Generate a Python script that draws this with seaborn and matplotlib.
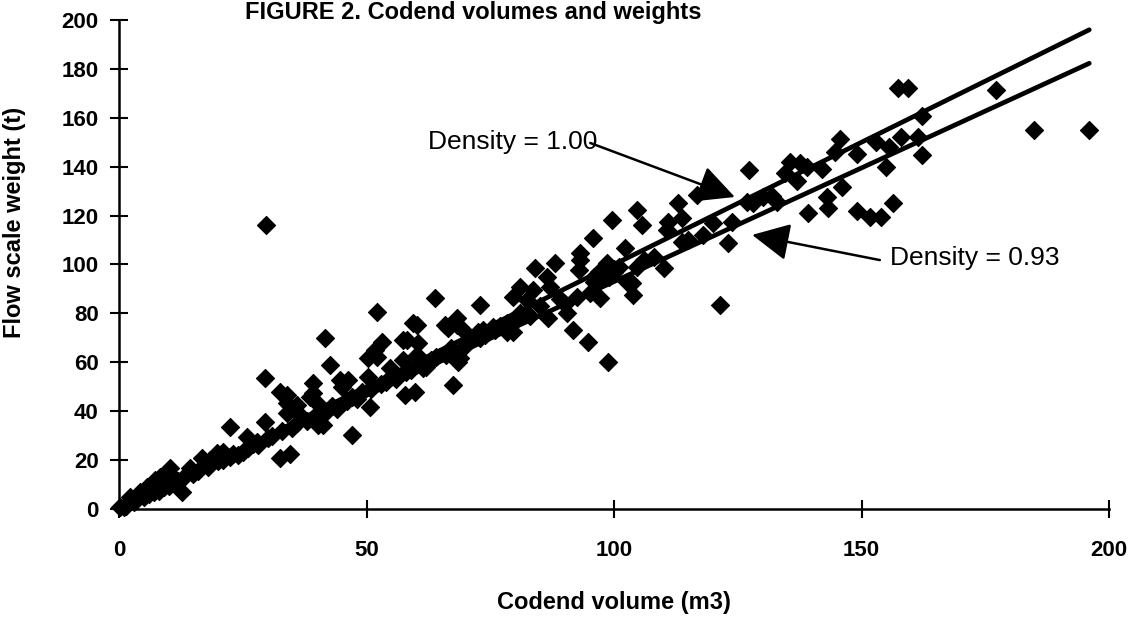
import matplotlib
matplotlib.use("Agg")
import matplotlib.pyplot as plt
import seaborn as sns
import numpy as np
import pandas as pd

# ---- data ----
volume = [
    29.7, 157.4, 159.4, 177.2, 184.8, 196.0, 162.2, 161.4, 162.2, 155.6, 155.0, 156.4, 154.0, 151.7, 149.0,
    145.7, 144.6, 127.3, 135.6, 137.6, 139.0, 134.5, 146.0, 126.8, 130.0, 133.0, 143.0, 143.2, 139.2, 123.8,
    123.0, 121.4, 116.8, 113.0, 113.7, 111.0, 110.7, 113.7, 104.6, 105.6, 99.6, 95.8, 102.2, 93.1, 98.6,
    104.6, 110.0, 103.6, 103.8, 93.1, 93.0, 88.0, 84.0, 86.4, 87.0, 81.0, 79.6, 82.4, 83.6, 78.4,
    79.6, 86.7, 90.5, 92.5, 95.2, 97.2, 91.7, 94.8, 98.8, 102.6, 63.8, 72.9, 68.3, 65.9, 52.1,
    60.2, 41.6, 53.1, 51.7, 58.2, 60.4, 50.3, 42.6, 46.3, 45.0, 50.3, 54.7, 57.4, 60.2, 61.4,
    66.5, 69.5, 72.5, 75.6, 67.5, 68.5, 78.4, 67.5, 57.8, 59.8, 47.1, 50.7, 41.2, 39.2, 35.9,
    34.5, 29.5, 32.5, 33.9, 22.4, 29.5, 32.5, 12.7, 10.3, 8.3, 14.3, 16.8, 21.0, 22.4, 25.9,
    27.9, 25.0, 38.6, 40.0, 40.2, 33.9, 37.0, 5.7, 2.2, 0.2, 4.2, 7.3, 10.9, 18.4, 19.8,
    59.4, 57.4, 52.1, 44.6, 39.2, 33.9, 68.9, 68.3, 73.5, 97.0, 98.0, 99.0, 100.0, 96.0,
    1.0, 1.5, 3.0, 3.5, 5.0, 6.0, 7.0, 8.0, 9.0, 10.0, 11.0, 12.0, 13.0, 15.0, 16.0,
    18.0, 20.0, 21.0, 23.0, 24.0, 26.0, 27.0, 28.0, 30.0, 31.0, 33.0, 35.0, 36.0, 38.0, 40.0,
    42.0, 43.0, 44.0, 46.0, 47.0, 48.0, 49.0, 51.0, 53.0, 54.0, 55.0, 56.0, 58.0, 59.0, 61.0,
    62.0, 63.0, 64.0, 66.0, 67.0, 70.0, 71.0, 73.0, 74.0, 76.0, 77.0, 80.0, 81.0, 83.0, 85.0,
    89.0, 90.0, 96.0, 97.0, 98.0, 99.0, 100.0, 101.0, 106.0, 108.0, 115.0, 118.0, 120.0, 128.0, 132.0,
    137.0, 142.0, 149.0, 153.0, 158.0,
]
weight = [
    116.2, 172.2, 172.2, 171.4, 155.0, 155.0, 160.7, 152.0, 144.8, 148.0, 140.0, 125.0, 119.4, 119.4, 122.0,
    151.3, 146.0, 138.6, 142.0, 141.5, 140.0, 137.4, 131.7, 125.6, 127.6, 125.6, 127.6, 123.0, 121.0, 117.4,
    108.8, 83.4, 128.4, 125.0, 119.0, 117.4, 114.0, 109.0, 122.3, 116.2, 118.2, 111.0, 106.7, 104.7, 100.6,
    99.0, 98.6, 92.4, 87.5, 101.8, 97.7, 100.6, 98.6, 95.0, 90.8, 90.8, 86.7, 85.5, 89.6, 76.0,
    72.4, 78.0, 80.0, 86.7, 88.3, 86.3, 73.2, 68.3, 60.0, 93.0, 86.3, 83.4, 78.1, 75.3, 80.6,
    75.3, 69.9, 68.3, 65.0, 69.1, 67.9, 61.8, 58.9, 52.8, 50.0, 54.0, 57.7, 61.0, 63.0, 57.7,
    74.0, 73.2, 72.4, 74.4, 65.0, 60.0, 72.4, 50.7, 46.6, 47.9, 30.3, 41.7, 34.4, 47.4, 42.5,
    22.5, 53.6, 48.0, 46.6, 33.5, 35.6, 20.9, 7.0, 16.8, 13.0, 16.8, 20.9, 23.3, 21.3, 29.4,
    27.4, 23.3, 45.8, 43.4, 34.4, 39.3, 37.6, 9.0, 4.9, 0.8, 7.0, 11.9, 13.0, 20.0, 22.9,
    76.1, 69.1, 62.2, 52.8, 51.5, 43.4, 61.8, 75.3, 73.2, 97.0, 95.0, 99.0, 97.0, 95.0,
    1.0, 1.2, 2.8, 3.5, 4.8, 6.0, 6.8, 7.5, 9.0, 9.5, 11.0, 11.5, 12.5, 14.5, 15.5,
    17.0, 19.5, 20.0, 22.5, 22.0, 25.0, 26.5, 26.0, 29.0, 30.0, 32.0, 33.0, 35.0, 36.0, 39.0,
    40.0, 42.0, 41.0, 44.0, 46.0, 45.0, 48.0, 49.0, 51.0, 52.0, 54.0, 53.0, 56.0, 57.0, 60.0,
    58.0, 61.0, 62.0, 63.0, 66.0, 67.0, 69.0, 70.0, 71.0, 73.0, 75.0, 77.0, 80.0, 79.0, 83.0,
    86.0, 84.0, 93.0, 94.0, 96.0, 95.0, 98.0, 99.0, 102.0, 103.0, 110.0, 112.0, 117.0, 125.0, 128.0,
    134.0, 139.0, 145.0, 150.0, 152.0,
]
densities = [1.00, 0.93]
density_labels = ["Density = 1.00", "Density = 0.93"]
line_volume = [0, 196]
x_ticks = [0, 50, 100, 150, 200]
y_ticks = [0, 20, 40, 60, 80, 100, 120, 140, 160, 180, 200]

title = "FIGURE 2. Codend volumes and weights"
x_label = "Codend volume (m3)"
y_label = "Flow scale weight (t)"

# ---- styling ----
sns.set_theme(style="white")
plt.rcParams["font.family"] = ["Liberation Sans", "DejaVu Sans"]

fig = plt.figure(figsize=(11.41, 6.21), dpi=100)
ax = fig.add_axes([0.1043, 0.1804, 0.8677, 0.7874])

pts = pd.DataFrame({"volume": volume, "weight": weight})
sns.scatterplot(data=pts, x="volume", y="weight", marker="D", s=85,
                color="black", edgecolor="black", linewidth=0.8, ax=ax, zorder=3)
for coll in ax.collections:
    coll.set_clip_on(False)

lines = []
for d, lab in zip(densities, density_labels):
    for v in line_volume:
        lines.append({"volume": v, "weight": d * v, "density": lab})
ldf = pd.DataFrame(lines)
sns.lineplot(data=ldf, x="volume", y="weight", units="density", estimator=None,
             color="black", linewidth=3.4, ax=ax, zorder=4, legend=False)

ax.set_xlim(0, 200)
ax.set_ylim(0, 200)
ax.set_xticks(x_ticks)
ax.set_yticks(y_ticks)
ax.set_xticklabels([str(t) for t in x_ticks])
ax.set_yticklabels([str(t) for t in y_ticks])

for side in ["top", "right"]:
    ax.spines[side].set_visible(False)
for side in ["left", "bottom"]:
    ax.spines[side].set_color("black")
    ax.spines[side].set_linewidth(1.8)

ax.tick_params(axis="both", which="major", direction="inout", length=13, width=1.5,
               color="black", labelsize=16, labelcolor="black",
               bottom=True, left=True, top=False, right=False)
ax.tick_params(axis="y", pad=8)
ax.tick_params(axis="x", pad=16)
for lab in ax.get_xticklabels() + ax.get_yticklabels():
    lab.set_fontweight("bold")

ax.set_xlabel(x_label, fontsize=17, fontweight="bold", color="black")
ax.set_ylabel(y_label, fontsize=17, fontweight="bold", color="black")
ax.xaxis.set_label_coords(0.5, -0.168)
ax.yaxis.set_label_coords(-0.094, 0.587)

# annotations with arrows
ax.annotate("", xy=(124.4, 127.6), xytext=(95.2, 149.7),
            arrowprops=dict(arrowstyle="-|>", mutation_scale=58, lw=1.8, color="black",
                            shrinkA=0, shrinkB=0), zorder=5)
ax.text(62.4, 150.0, density_labels[0], fontsize=19, ha="left", va="center", color="black", zorder=6)
ax.annotate("", xy=(127.9, 112.1), xytext=(153.7, 101.8),
            arrowprops=dict(arrowstyle="-|>", mutation_scale=58, lw=1.8, color="black",
                            shrinkA=0, shrinkB=0), zorder=5)
ax.text(155.8, 102.7, density_labels[1], fontsize=19, ha="left", va="center", color="black", zorder=6)

fig.text(0.415, 1 - 1 / 621, title, fontsize=17, fontweight="bold", ha="center",
         va="top", color="black")

fig.savefig("out.png", dpi=100, facecolor="white")
